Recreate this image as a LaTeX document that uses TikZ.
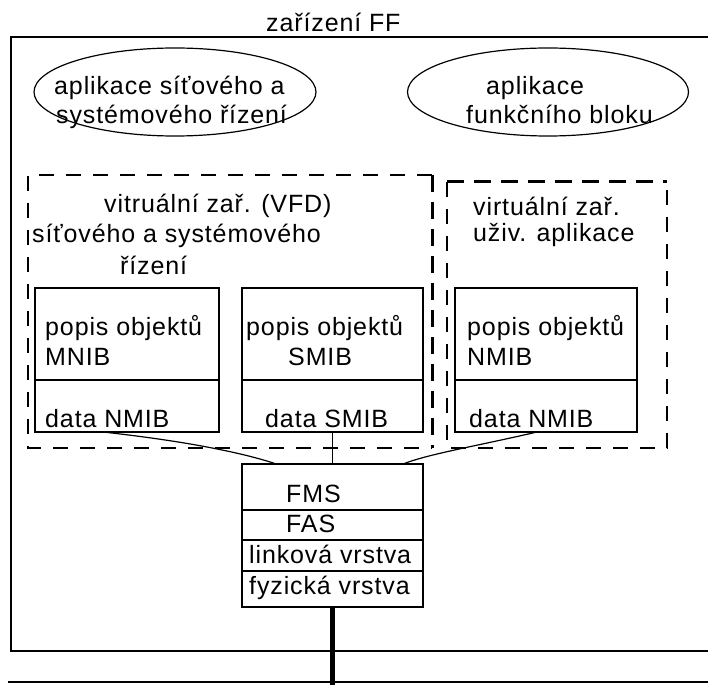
\documentclass[tikz,border=0pt]{standalone}
\usepackage{fontspec}
\usetikzlibrary{shapes.geometric,calc}
\newfontfamily\lbfont[LetterSpace=3.5]{Liberation Sans}

\tikzset{
  lbl/.style={font=\lbfont\fontsize{25}{30}\selectfont, inner sep=0pt, anchor=base west},
  frame/.style={draw, line width=1.2pt, inner sep=0pt, outer sep=0pt, anchor=north west},
  bubble/.style={draw, ellipse, line width=1.2pt, inner sep=0pt},
  hidebox/.style={inner sep=0pt, outer sep=0pt, anchor=north west},
  thindash/.style={line width=1.2pt, dash pattern=on 15pt off 12pt},
  thickdash/.style={line width=3pt, dash pattern=on 17pt off 10pt},
  link/.style={line width=1.2pt},
}

\begin{document}
\begin{tikzpicture}[x=1pt,y=-1pt]
\useasboundingbox (0,0) rectangle (708,684);

% device frame (its right side lies past the page edge)
\node[frame, minimum width=704pt, minimum height=614pt] (dev) at (11,37) {};
\node[lbl] (devlbl) at (266,32) {zařízení FF};

% applications
\node[bubble, minimum width=282pt, minimum height=88pt] (app1) at (175,92) {};
\node[lbl] (app1a) at (54,95) {aplikace síťového a};
\node[lbl] (app1b) at (56,124) {systémového řízení};

\node[bubble, minimum width=281pt, minimum height=88pt] (app2) at (548,92) {};
\node[lbl] (app2a) at (486,95) {aplikace};
\node[lbl] (app2b) at (466,124) {funkčního bloku};

% virtual field devices
\node[hidebox, minimum width=404pt, minimum height=273pt] (vfd1) at (28,175) {};
\draw[thindash] (vfd1.north east) -- (vfd1.north west) -- (vfd1.south west) -- (vfd1.south east);
\draw[thickdash] (vfd1.north east) -- (vfd1.south east);
\node[lbl] (vfd1a) at (104,213) {vitruální zař. (VFD)};
\node[lbl] (vfd1b) at (32,243) {síťového a systémového};
\node[lbl] (vfd1c) at (120,274) {řízení};

\node[hidebox, minimum width=220pt, minimum height=266pt] (vfd2) at (447,182) {};
\draw[thindash] (vfd2.north west) -- (vfd2.south west) -- (vfd2.south east) -- (vfd2.north east);
\draw[thickdash] (vfd2.north west) -- (vfd2.north east);
\node[lbl] (vfd2a) at (473,216) {virtuální zař.};
\node[lbl] (vfd2b) at (473,242) {uživ. aplikace};

% object dictionaries
\node[frame, minimum width=184pt, minimum height=92pt] (mnib) at (35,288) {};
\node[frame, minimum width=184pt, minimum height=52pt] (mnibdata) at (35,380) {};
\node[lbl] at (45,335) {popis objektů};
\node[lbl] at (45,365) {MNIB};
\node[lbl] at (45,427) {data NMIB};

\node[frame, minimum width=181pt, minimum height=92pt] (smib) at (242,288) {};
\node[frame, minimum width=181pt, minimum height=52pt] (smibdata) at (242,380) {};
\node[lbl] at (246,335) {popis objektů};
\node[lbl] at (288,365) {SMIB};
\node[lbl] at (265,427) {data SMIB};

\node[frame, minimum width=182pt, minimum height=92pt] (nmib) at (455,288) {};
\node[frame, minimum width=182pt, minimum height=52pt] (nmibdata) at (455,380) {};
\node[lbl] at (467,335) {popis objektů};
\node[lbl] at (467,365) {NMIB};
\node[lbl] at (469,427) {data NMIB};

% communication stack
\node[frame, minimum width=181pt, minimum height=46pt] (fms) at (242,464) {};
\node[frame, minimum width=181pt, minimum height=30pt] (fas) at (242,510) {};
\node[frame, minimum width=181pt, minimum height=31pt] (dll) at (242,540) {};
\node[frame, minimum width=181pt, minimum height=36pt] (phy) at (242,571) {};
\node[lbl] at (286,502) {FMS};
\node[lbl] at (286,532) {FAS};
\node[lbl] at (249,563) {linková vrstva};
\node[lbl] at (249,594) {fyzická vrstva};

% links from the dictionaries to FMS
\draw[link] ($(mnibdata.south west)!0.37!(mnibdata.south east)$)
  .. controls +(90,10) and +(-30,-10) .. ($(fms.north west)!0.19!(fms.north east)$);
\draw[link] (smibdata.south) -- (fms.north -| smibdata.south);
\draw[link] ($(nmibdata.south west)!0.45!(nmibdata.south east)$)
  .. controls +(-60,14) and +(25,-10) .. ($(fms.north west)!0.89!(fms.north east)$);

% fieldbus
\coordinate (busL) at (8,682);
\coordinate (busR) at (712,682);
\draw[line width=2pt] (busL) -- (busR);
\draw[line width=4.5pt] (phy.south) -- (phy.south |- 0,690);
\end{tikzpicture}
\end{document}
